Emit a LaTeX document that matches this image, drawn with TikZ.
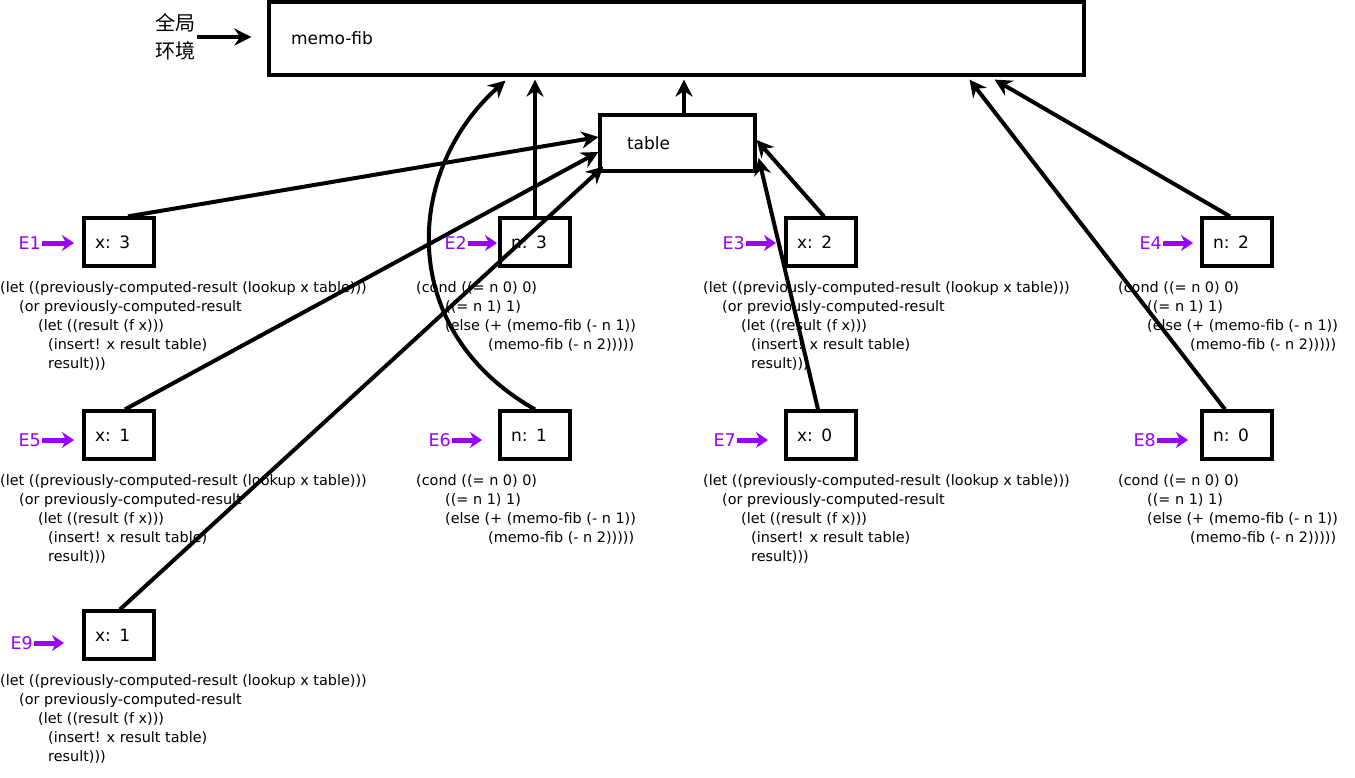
\documentclass[tikz,border=0pt]{standalone}
\usepackage{fontspec}
\setmainfont{DejaVu Sans}
\newfontfamily\cjk{Noto Sans CJK SC}
\usetikzlibrary{arrows.meta}

\definecolor{envpurple}{RGB}{153,0,255}

% procedure bodies printed under the frames
\newcommand{\letcode}{\strut(let ((previously-computed-result (lookup x table)))\\
  \hspace*{19pt}(or previously-computed-result\\
  \hspace*{38pt}(let ((result (f x)))\\
  \hspace*{48pt}(insert! x result table)\\
  \hspace*{48pt}result)))}
\newcommand{\condcode}{\strut(cond ((= n 0) 0)\\
  \hspace*{29pt}((= n 1) 1)\\
  \hspace*{29pt}(else (+ (memo-fib (- n 1))\\
  \hspace*{72pt}(memo-fib (- n 2)))))}

\begin{document}
\begin{tikzpicture}[x=1pt,y=-1pt,
    frame/.style={draw, line width=3.2pt, minimum height=48pt, inner xsep=11pt,
      text width=48pt, align=left, font=\fontsize{17}{20}\selectfont},
    code/.style={anchor=north west, inner sep=0pt, align=left,
      font=\fontsize{14.4}{19}\selectfont},
    envlabel/.style={text=envpurple, inner sep=1pt, font=\fontsize{17.5}{20}\selectfont},
    envarrow/.style={envpurple, line width=5pt, -{Stealth[length=12pt,width=16pt]}},
    link/.style={line width=4pt, -{Stealth[length=17pt,width=17pt]}}]
  \useasboundingbox (0,0) rectangle (1355,777);

  % Global environment
  \node[frame, minimum height=73pt, text width=771pt, inner xsep=22pt] (global) at (676.5,38.5) {memo-fib};
  \node[font=\cjk\fontsize{20}{28}\selectfont, align=center, inner sep=2pt] (globlab) at (175,37) {全局\\环境};
  \draw[link, line width=4.5pt] (globlab.east) -- ([xshift=-16pt]global.west |- globlab.east);

  % The table
  \node[frame, minimum height=56pt, text width=101pt, inner xsep=27pt] (table) at (677.5,143) {table};
  \draw[link] ([xshift=6.5pt]table.north) -- ([xshift=6.5pt,yshift=-3pt]table.north |- global.south);

  % Frames E1..E9 with their purple labels
  \foreach \n/\cx/\cy/\val/\lx/\ly/\ax in {
      1/119/242/{x: 3}/42/243/74,
      2/535/242/{n: 3}/468/243/497,
      3/821/242/{x: 2}/746/243/776,
      4/1237/242/{n: 2}/1163/243/1193,
      5/119/435/{x: 1}/42/440/74,
      6/535/435/{n: 1}/452/440/482,
      7/821/435/{x: 0}/737/440/768,
      8/1237/435/{n: 0}/1157/440/1188,
      9/119/635/{x: 1}/34/643/64} {
    \node[frame] (e\n) at (\cx,\cy) {\val};
    \node[envlabel, anchor=east] (l\n) at (\lx,\ly) {E\n};
    \coordinate (a\n) at (\ax,\ly);
    \draw[envarrow] (l\n.east) -- (a\n);
  }

  % Bodies under the frames
  \foreach \n/\x/\y in {1/0/279, 3/703/279, 5/0/472, 7/703/472, 9/0/672}
    \node[code] (code\n) at (\x,\y) {\letcode};
  \foreach \n/\x/\y in {2/416/279, 4/1118/279, 6/416/472, 8/1118/472}
    \node[code] (code\n) at (\x,\y) {\condcode};

  % Enclosing environment pointers
  \draw[link] ([xshift=9pt]e1.north) -- ([yshift=6pt]table.west);
  \draw[link] (e2.north) -- ([yshift=-3pt]e2.north |- global.south);
  \draw[link] ([xshift=3pt]e3.north) -- ([yshift=3pt]table.east);
  \draw[link] ([xshift=-7pt]e4.north) -- ([xshift=318pt,yshift=-3pt]global.south);
  \draw[link] ([xshift=6pt]e5.north) -- ([yshift=-9pt]table.west);
  \draw[link] (e6.north) .. controls (395,330) and (405,170) .. ([xshift=-171pt,yshift=-4pt]global.south);
  \draw[link] ([xshift=-3pt]e7.north) -- ([xshift=2pt,yshift=-15pt]table.east);
  \draw[link] ([xshift=-12pt]e8.north) -- ([xshift=293pt,yshift=-3pt]global.south);
  \draw[link] ([xshift=1pt]e9.north) -- ([xshift=5pt,yshift=6pt]table.south west);
\end{tikzpicture}
\end{document}
